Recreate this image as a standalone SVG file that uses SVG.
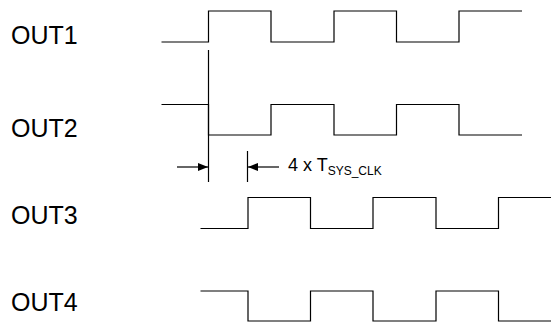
<svg xmlns="http://www.w3.org/2000/svg" width="551" height="324" viewBox="0 0 551 324">
<style>
.w{fill:none;stroke:#000;stroke-width:1.2}
.lbl{font-family:"Liberation Sans",Arial,sans-serif;font-size:25px;fill:#000}
.t{font-family:"Liberation Sans",Arial,sans-serif;font-size:18px;fill:#000}
.s{font-size:12px}
</style>
<defs>
<marker id="ah" viewBox="0 0 10 8" refX="10" refY="4" markerWidth="10" markerHeight="8" markerUnits="userSpaceOnUse" orient="auto">
<path d="M0,0 L10,4 L0,8 z" fill="#000"/>
</marker>
</defs>
<rect width="551" height="324" fill="#fff"/>
<g id="out1">
<text class="lbl" x="11" y="44">OUT1</text>
<path class="w" d="M161.5,42 H208.5 V11 H271 V42 H334 V11 H396.5 V42 H459 V11 H522"/>
</g>
<g id="out2">
<text class="lbl" x="11" y="137">OUT2</text>
<path class="w" d="M161.5,104.5 H208.5 V135 H271 V104.5 H334 V135 H396.5 V104.5 H459 V135 H522"/>
</g>
<g id="out3">
<text class="lbl" x="11" y="224">OUT3</text>
<path class="w" d="M200.5,228.5 H248 V197.5 H310.5 V228.5 H373 V197.5 H436 V228.5 H498.5 V197.5 H551"/>
</g>
<g id="out4">
<text class="lbl" x="11" y="311">OUT4</text>
<path class="w" d="M200.5,291 H248 V321 H310.5 V291 H373 V321 H436 V291 H498.5 V321 H551"/>
</g>
<g id="connectors">
<path class="w" d="M208.5,50 V182"/>
<path class="w" d="M247.5,151 V182"/>
<path class="w" d="M177,167 H208" marker-end="url(#ah)"/>
<path class="w" d="M279,167 H248" marker-end="url(#ah)"/>
</g>
<text class="t" x="288" y="171">4 x T<tspan class="s" dy="4">SYS_CLK</tspan></text>
</svg>
